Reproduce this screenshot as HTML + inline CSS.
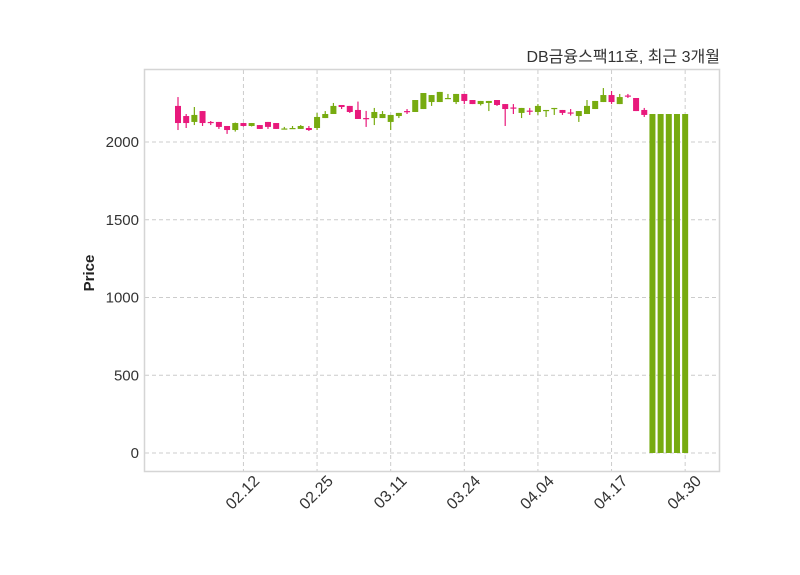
<!DOCTYPE html>
<html><head><meta charset="utf-8"><style>
body{margin:0;background:#fff;}
svg{display:block;font-family:"Liberation Sans","DejaVu Sans","Noto Sans CJK KR",sans-serif;}
</style></head><body>
<svg id="chart" width="800" height="575">
<rect x="0" y="0" width="800" height="575" fill="#fff"/>
<text x="720" y="62" text-anchor="end" font-size="16" fill="#333" font-family="'Liberation Sans','Noto Sans CJK KR',sans-serif">DB금융스팩11호, 최근 3개월</text>
<text transform="translate(94,273) rotate(-90)" text-anchor="middle" font-size="15" font-weight="bold" fill="#222">Price</text>
<g id="grid"></g>
<g id="marks"></g>
<rect x="144.5" y="69.5" width="575" height="402" fill="none" stroke="#d5d5d5" stroke-width="1.5"/>
<g id="axes"></g>
</svg>
<script>
const opens  = [2232,2167,2129,2199,2129,2129,2103,2077,2122,2103,2109,2129,2122,2084,2084,2084,2090,2090,2154,2180,2238,2232,2206,2154,2154,2154,2129,2167,2199,2193,2212,2257,2257,2277,2257,2309,2270,2244,2251,2270,2244,2222,2187,2202,2193,2199,2212,2206,2190,2167,2180,2212,2257,2302,2244,2299,2283,2206,0,0,0,0,0];
const highs  = [2289,2180,2225,2199,2135,2129,2103,2125,2122,2122,2109,2129,2122,2097,2103,2109,2103,2187,2199,2251,2238,2232,2260,2200,2219,2199,2174,2187,2212,2270,2315,2302,2322,2309,2309,2309,2270,2264,2264,2270,2244,2244,2219,2219,2244,2206,2219,2206,2212,2199,2270,2264,2347,2328,2309,2309,2283,2219,2180,2180,2180,2180,2180];
const lows   = [2077,2090,2109,2103,2109,2084,2052,2067,2100,2100,2084,2084,2084,2084,2084,2084,2071,2077,2154,2180,2212,2187,2148,2097,2109,2154,2077,2154,2180,2193,2212,2232,2257,2277,2244,2244,2244,2235,2199,2232,2103,2180,2154,2174,2174,2161,2174,2174,2170,2129,2180,2212,2257,2244,2244,2283,2199,2161,0,0,0,0,0];
const closes = [2122,2122,2174,2122,2125,2097,2077,2122,2103,2122,2084,2097,2084,2087,2090,2103,2077,2161,2180,2232,2225,2193,2148,2148,2193,2180,2174,2187,2193,2270,2315,2302,2322,2283,2309,2264,2244,2264,2264,2238,2212,2219,2219,2199,2232,2206,2219,2187,2187,2199,2232,2264,2302,2257,2289,2293,2199,2174,2180,2180,2180,2180,2180];
const yTicks = [0,500,1000,1500,2000];
const xTickIdx = [8,17,26,35,44,53,62];
const xTickLabels = ["02.12","02.25","03.11","03.24","04.04","04.17","04.30"];

const NS="http://www.w3.org/2000/svg";
const yS = v => 453 - v*311/2000;
const xS = i => 178 + i*8.18;
function mk(tag, attrs, parent){const e=document.createElementNS(NS,tag);for(const k in attrs)e.setAttribute(k,attrs[k]);parent.appendChild(e);return e;}
const grid=document.getElementById('grid'), marks=document.getElementById('marks'), axes=document.getElementById('axes');
yTicks.forEach(t=>{
  const l=mk('line',{x1:145,x2:719,y1:yS(t),y2:yS(t),stroke:'#ccc','stroke-dasharray':'4,3'},grid);
  
  
  const tx=mk('text',{x:139,y:yS(t)+5,'text-anchor':'end','font-size':15,fill:'#333'},axes);
  tx.textContent=t;
  
  
});
xTickIdx.forEach((idx,k)=>{
  const x=xS(idx);
  const l=mk('line',{x1:x,x2:x,y1:70,y2:471,stroke:'#ccc','stroke-dasharray':'4,3'},grid);
  
  
  const tx=mk('text',{transform:`translate(${x+17},${482}) rotate(-45)`,'text-anchor':'end','font-size':16,fill:'#333'},axes);
  tx.textContent=xTickLabels[k];
  
  
});
opens.forEach((o,i)=>{
  const c=closes[i], up=c>=o, col=up?'#77ab10':'#e8197c', x=xS(i);
  const g=mk('g',{},marks);
  
  
  mk('line',{x1:x,x2:x,y1:yS(highs[i]),y2:yS(lows[i]),stroke:col,'stroke-width':1.2},g);
  const top=yS(Math.max(o,c)), bot=yS(Math.min(o,c));
  mk('rect',{x:x-3,y:top,width:6,height:Math.max(bot-top,1.2),fill:col},g);
});
</script>
</body></html>
